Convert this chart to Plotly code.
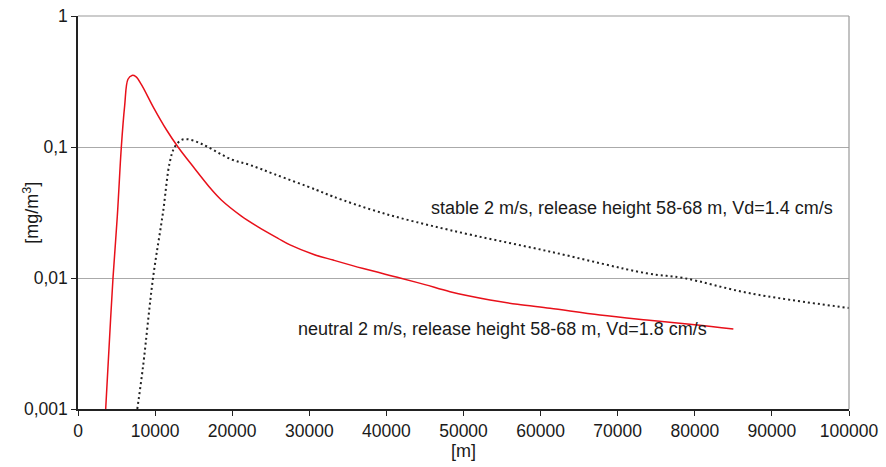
import plotly.graph_objects as go

# neutral 2 m/s (red solid)
neutral_x = [3590, 3890, 4540, 5100, 5620, 6050, 6480, 7000, 7500, 8210, 9800, 11450, 12970,
             15000, 17290, 18590, 21190, 23350, 25940, 27500, 30500, 33100, 37000, 41760,
             45000, 48250, 53440, 57000, 61220, 67700, 73760, 80000, 85000]
neutral_y = [0.001, 0.0021, 0.01, 0.0297, 0.1, 0.206, 0.329, 0.352, 0.345, 0.301, 0.2, 0.136, 0.1,
             0.07, 0.0475, 0.0394, 0.0297, 0.0246, 0.0201, 0.0179, 0.0152, 0.0137, 0.0118, 0.01,
             0.0089, 0.00786, 0.0068, 0.0063, 0.00587, 0.00522, 0.00478, 0.0044, 0.00408]

# stable 2 m/s (black dotted)
stable_x = [7690, 8430, 9730, 11020, 11890, 12540, 13400, 14270, 15500, 16860, 19890, 22300,
            25510, 30950, 33000, 39600, 48250, 61220, 73760, 78500, 87160, 100000]
stable_y = [0.001, 0.0021, 0.01, 0.0315, 0.0759, 0.1, 0.113, 0.1145, 0.109, 0.1, 0.0805, 0.0729,
            0.0619, 0.047, 0.042, 0.0312, 0.0232, 0.0159, 0.01086, 0.01, 0.00764, 0.0059]

x_ticks = [0, 10000, 20000, 30000, 40000, 50000, 60000, 70000, 80000, 90000, 100000]
y_ticks = [0.001, 0.01, 0.1, 1]
y_ticktext = ["0,001", "0,01", "0,1", "1"]

FONT = "Liberation Sans, Arial, sans-serif"

fig = go.Figure()
fig.add_trace(go.Scatter(x=stable_x, y=stable_y, mode="lines",
                         line=dict(color="#222222", width=2, dash="2px,3px"),
                         line_shape="spline", showlegend=False))
fig.add_trace(go.Scatter(x=neutral_x, y=neutral_y, mode="lines",
                         line=dict(color="#e8101a", width=1.5),
                         line_shape="spline", showlegend=False))

fig.add_annotation(x=71790, y=-1.466, xref="x", yref="y",
                   text="stable 2 m/s, release height 58-68 m, Vd=1.4 cm/s",
                   showarrow=False, font=dict(family=FONT, size=18, color="#1a1a1a"))
fig.add_annotation(x=55060, y=-2.389, xref="x", yref="y",
                   text="neutral 2 m/s, release height 58-68 m, Vd=1.8 cm/s",
                   showarrow=False, font=dict(family=FONT, size=18, color="#1a1a1a"))
# y-axis title
fig.add_annotation(x=-0.078, y=0.5, xref="paper", yref="paper", textangle=-90,
                   text="[mg/m<sup>3</sup>]", showarrow=False,
                   font=dict(family=FONT, size=18, color="#1a1a1a"))

# darker reference line at 0.1, gray frame on top/right
fig.add_shape(type="line", xref="paper", yref="y", x0=0, x1=1, y0=-1, y1=-1,
              line=dict(color="#444444", width=1.2), layer="below")
fig.add_shape(type="line", xref="paper", yref="paper", x0=1, x1=1, y0=0, y1=1,
              line=dict(color="#999999", width=1.2))
fig.add_shape(type="line", xref="paper", yref="paper", x0=0, x1=1, y0=1, y1=1,
              line=dict(color="#999999", width=1.2))

fig.update_layout(
    width=886, height=467,
    margin=dict(l=78, r=37, t=16, b=58, autoexpand=False),
    paper_bgcolor="white", plot_bgcolor="white",
    font=dict(family=FONT, size=17.5, color="#1a1a1a"),
    xaxis=dict(range=[0, 100000], tickvals=x_ticks, ticktext=[str(v) for v in x_ticks],
               showgrid=False, zeroline=False, showline=True, linecolor="#222222", linewidth=1.5,
               ticks="outside", ticklen=5, tickcolor="#222222", automargin=False,
               tickfont=dict(size=17.5), ticklabeloverflow="allow",
               title=dict(text="[m]", font=dict(size=18), standoff=2)),
    yaxis=dict(type="log", range=[-3, 0], tickvals=y_ticks, ticktext=y_ticktext,
               showgrid=True, gridcolor="#aaaaaa", gridwidth=1, zeroline=False,
               showline=True, linecolor="#222222", linewidth=1.5,
               ticks="outside", ticklen=5, tickcolor="#222222", automargin=False,
               tickfont=dict(size=17.5), ticklabeloverflow="allow"),
)

# remove the default page margin so the figure fills the 886x467 window exactly
fig.write_html("out.html", config={"displayModeBar": False},
               post_script="document.body.style.margin='0';")
